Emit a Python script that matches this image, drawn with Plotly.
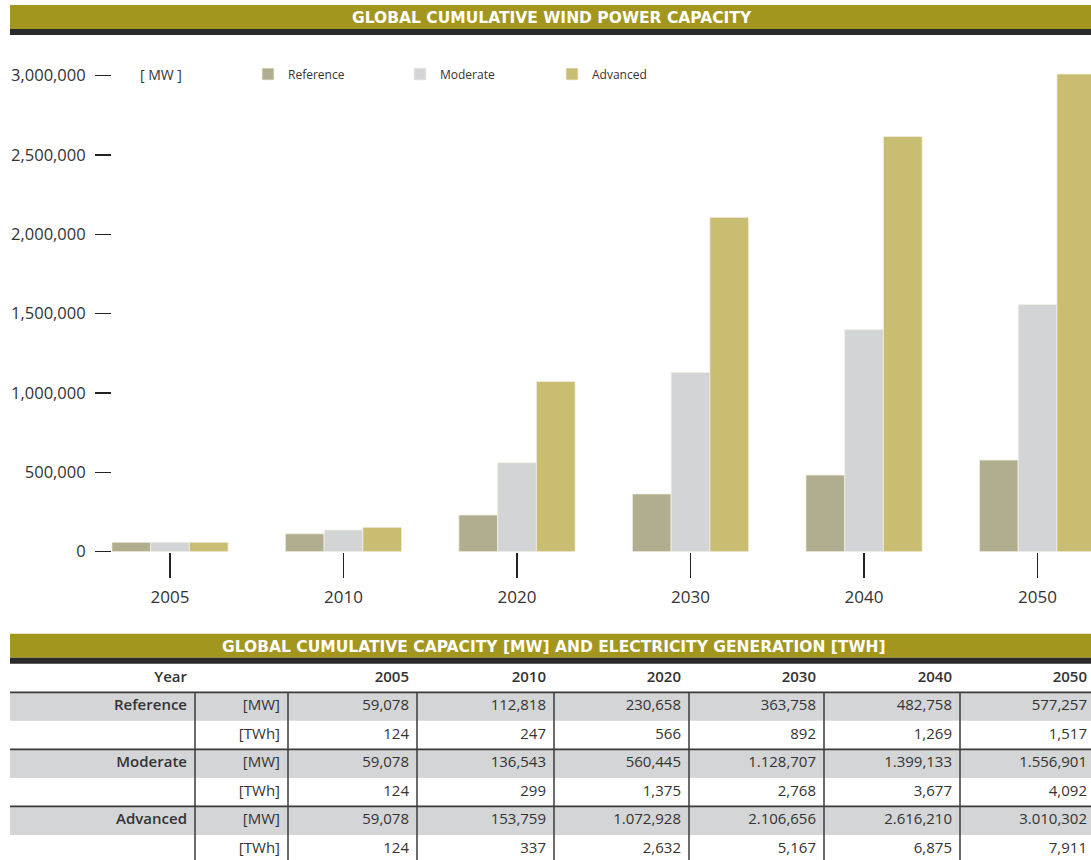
import plotly.graph_objects as go

# ---------------- data ----------------
years = ["2005", "2010", "2020", "2030", "2040", "2050"]
reference_mw = [59078, 112818, 230658, 363758, 482758, 577257]
moderate_mw = [59078, 136543, 560445, 1128707, 1399133, 1556901]
advanced_mw = [59078, 153759, 1072928, 2106656, 2616210, 3010302]

reference_twh_txt = ["124", "247", "566", "892", "1,269", "1,517"]
moderate_twh_txt = ["124", "299", "1,375", "2,768", "3,677", "4,092"]
advanced_twh_txt = ["124", "337", "2,632", "5,167", "6,875", "7,911"]
reference_mw_txt = ["59,078", "112,818", "230,658", "363,758", "482,758", "577,257"]
moderate_mw_txt = ["59,078", "136,543", "560,445", "1.128,707", "1.399,133", "1.556,901"]
advanced_mw_txt = ["59,078", "153,759", "1.072,928", "2.106,656", "2.616,210", "3.010,302"]

y_tickvals = [0, 500000, 1000000, 1500000, 2000000, 2500000, 3000000]
y_ticktext = ["0", "500,000", "1,000,000", "1,500,000", "2,000,000", "2,500,000", "3,000,000"]

scenario_names = ["Reference", "Moderate", "Advanced"]
chart_title = "GLOBAL CUMULATIVE WIND POWER CAPACITY"
table_title = "GLOBAL CUMULATIVE CAPACITY [MW] AND ELECTRICITY GENERATION [TWH]"
unit_label = "[ MW ]"

# ---------------- styles / layout ----------------
W, H = 1091, 860          # reference frame used for placing things
FIG_H = 872               # rendered height (page is captured at this height)
FONT = "Open Sans"
TITLE_FONT = "DejaVu Sans"
TXT = "#333333"
OLIVE = "#a3961f"
DARK = "#2a2a2a"
C_REF = "#b0ae8f"
C_MOD = "#d3d4d6"
C_ADV = "#c8bd71"
BAND = "#d4d5d7"


def px(x):
    return x / W


def py(y):
    return 1 - y / H


fig = go.Figure()

for name, vals, col in zip(scenario_names, [reference_mw, moderate_mw, advanced_mw],
                           [C_REF, C_MOD, C_ADV]):
    fig.add_trace(go.Bar(x=years, y=vals, name=name, marker_color=col,
                         marker_line=dict(color="#f2f0e4", width=0.8),
                         xaxis="x", yaxis="y"))

# ---------------- table (on its own axes) ----------------
col_edges = [195, 288, 417, 554, 689, 824, 960, 1095]   # right edges of columns
pad = 8
table_rows = [
    ("Reference", "[MW]", reference_mw_txt),
    ("", "[TWh]", reference_twh_txt),
    ("Moderate", "[MW]", moderate_mw_txt),
    ("", "[TWh]", moderate_twh_txt),
    ("Advanced", "[MW]", advanced_mw_txt),
    ("", "[TWh]", advanced_twh_txt),
]
TSIZE = 15

fig.add_trace(go.Scatter(
    x=[col_edges[0] - pad] + [e - pad for e in col_edges[2:]],
    y=[0] * (1 + len(years)),
    text=["Year"] + years, mode="text", textposition="middle left",
    textfont=dict(family=FONT, size=TSIZE, color=TXT, weight=600),
    xaxis="x2", yaxis="y2", showlegend=False, hoverinfo="skip"))

lab_x, lab_y, lab_t = [], [], []
unit_x, unit_y, unit_t = [], [], []
val_x, val_y, val_t = [], [], []
for i, (lab, unit, vals) in enumerate(table_rows):
    r = i + 1
    if lab:
        lab_x.append(col_edges[0] - pad); lab_y.append(r); lab_t.append(lab)
    unit_x.append(col_edges[1] - pad); unit_y.append(r); unit_t.append(unit)
    for j, v in enumerate(vals):
        val_x.append(col_edges[j + 2] - pad); val_y.append(r); val_t.append(v)

fig.add_trace(go.Scatter(x=lab_x, y=lab_y, text=lab_t, mode="text",
                         textposition="middle left",
                         textfont=dict(family=FONT, size=TSIZE, color=TXT, weight=600),
                         xaxis="x2", yaxis="y2", showlegend=False, hoverinfo="skip"))
fig.add_trace(go.Scatter(x=unit_x, y=unit_y, text=unit_t, mode="text",
                         textposition="middle left",
                         textfont=dict(family=FONT, size=TSIZE, color=TXT),
                         xaxis="x2", yaxis="y2", showlegend=False, hoverinfo="skip"))
fig.add_trace(go.Scatter(x=val_x, y=val_y, text=val_t, mode="text",
                         textposition="middle left",
                         textfont=dict(family=FONT, size=TSIZE, color=TXT),
                         xaxis="x2", yaxis="y2", showlegend=False, hoverinfo="skip"))

shapes = []
for top, bot in [(5, 29), (633, 657)]:
    shapes.append(dict(type="rect", xref="paper", yref="paper", x0=px(10), x1=1,
                       y0=py(bot), y1=py(top), fillcolor=OLIVE, line_width=0, layer="below"))
    shapes.append(dict(type="rect", xref="paper", yref="paper", x0=px(10), x1=1,
                       y0=py(bot + 6), y1=py(bot), fillcolor=DARK, line_width=0, layer="below"))
for r in [1, 3, 5]:
    shapes.append(dict(type="rect", xref="x2", yref="y2", x0=10, x1=1091,
                       y0=r - 0.5, y1=r + 0.5, fillcolor=BAND, line_width=0, layer="below"))
for r in [0.5, 2.5, 4.5]:
    shapes.append(dict(type="line", xref="x2", yref="y2", x0=10, x1=1091,
                       y0=r, y1=r, line=dict(color="#3a3a3a", width=1.8)))
for e in col_edges[:-1]:
    shapes.append(dict(type="line", xref="x2", yref="y2", x0=e, x1=e,
                       y0=0.5, y1=6.8, line=dict(color="#3a3a3a", width=1.5)))

annotations = [
    dict(text=chart_title, xref="paper", yref="paper", x=px(552), y=py(18),
         xanchor="center", yanchor="middle", showarrow=False,
         font=dict(family=TITLE_FONT, size=15.5, color="white", weight=700)),
    dict(text=table_title, xref="paper", yref="paper", x=px(554), y=py(646),
         xanchor="center", yanchor="middle", showarrow=False,
         font=dict(family=TITLE_FONT, size=15.5, color="white", weight=700)),
    dict(text=unit_label, xref="paper", yref="paper", x=px(161), y=py(74),
         xanchor="center", yanchor="middle", showarrow=False,
         font=dict(family=FONT, size=14, color=TXT)),
]

row_h = 28.5
table_top = 663
y2_max = (H - table_top) / row_h - 0.5

ppu = 475.5 / 3000000
y_top_px, y_zero_px = 58, 551
y_max = (y_zero_px - y_top_px) / ppu

fig.update_layout(
    width=W, height=FIG_H, margin=dict(l=0, r=0, t=0, b=0),
    paper_bgcolor="white", plot_bgcolor="white",
    barmode="group", bargap=0.33, bargroupgap=0,
    font=dict(family=FONT, color=TXT),
    showlegend=True,
    legend=dict(orientation="h", x=px(248), y=py(74), xanchor="left", yanchor="middle",
                entrywidth=107, entrywidthmode="pixels", traceorder="normal",
                font=dict(family=FONT, size=12, color=TXT), bgcolor="rgba(0,0,0,0)"),
    xaxis=dict(domain=[px(112), 1], type="category", range=[-0.334, 5.308],
               showline=False, showgrid=False, zeroline=False,
               ticks="outside", ticklen=25, tickwidth=1.5, tickcolor="#222",
               tickfont=dict(family=FONT, size=17, color=TXT), ticklabelstandoff=5),
    yaxis=dict(domain=[py(y_zero_px), py(y_top_px)], range=[0, y_max],
               showline=False, showgrid=False, zeroline=False,
               tickvals=y_tickvals, ticktext=y_ticktext,
               ticks="outside", ticklen=16, tickwidth=1.5, tickcolor="#222",
               tickfont=dict(family=FONT, size=16.5, color=TXT), ticklabelstandoff=6),
    xaxis2=dict(domain=[0, 1], range=[0, W], visible=False, fixedrange=True),
    yaxis2=dict(domain=[0, (H - table_top) / H], range=[y2_max, -0.5], visible=False,
                fixedrange=True),
    shapes=shapes, annotations=annotations,
)

fig.write_html(
    "out.html",
    config={"displayModeBar": False, "staticPlot": True},
    post_script=(
        "document.documentElement.style.margin='0';"
        "document.body.style.margin='0';"
        "document.body.style.overflow='hidden';"
        "document.documentElement.style.overflow='hidden';"
        "var gd=document.getElementById('{plot_id}');"
        "gd.style.position='fixed';gd.style.top='0';gd.style.left='0';"
    ),
)
